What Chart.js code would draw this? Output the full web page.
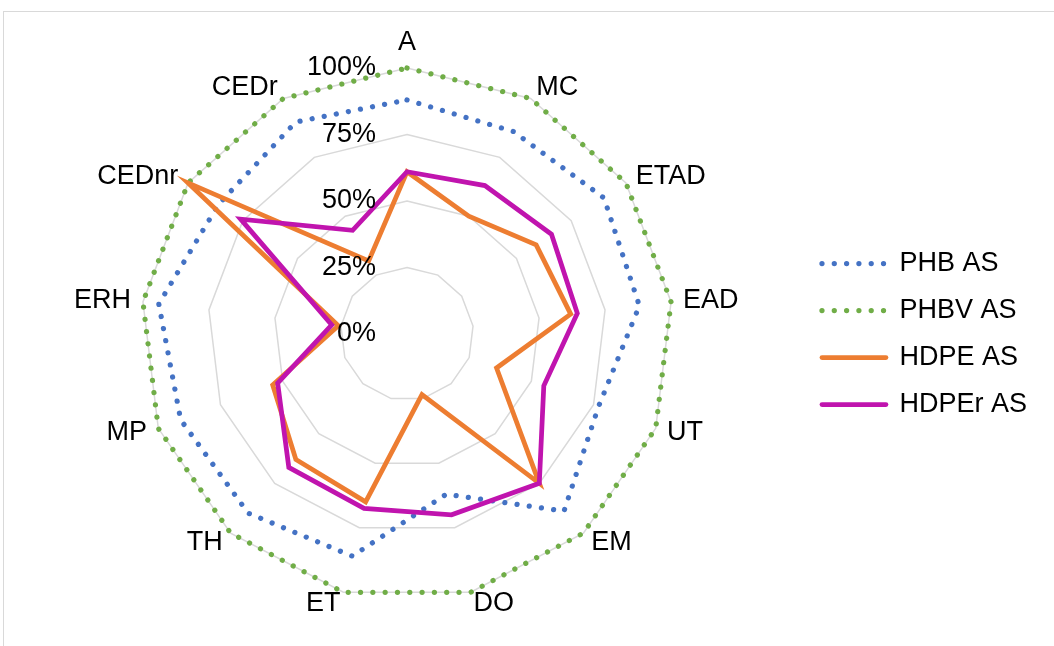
<!DOCTYPE html>
<html>
<head>
<meta charset="utf-8">
<script src="https://cdn.jsdelivr.net/npm/chart.js@4.4.1/dist/chart.umd.min.js"></script>
<style>
  html, body { margin: 0; padding: 0; background: #fff; overflow: hidden; width: 1054px; height: 646px; }
  #frame { position: absolute; left: 3px; top: 11px; width: 1200px; height: 800px; border: 1px solid #d9d9d9; box-sizing: border-box; }
  #chart { position: absolute; left: 0; top: 0; }
</style>
</head>
<body>
<div id="frame"></div>
<canvas id="chart" width="1054" height="646"></canvas>
<script>
// Indicator axes, clockwise from the top
const categories = ['A', 'MC', 'ETAD', 'EAD', 'UT', 'EM', 'DO', 'ET', 'TH', 'MP', 'ERH', 'CEDnr', 'CEDr'];

// Normalised scores per indicator (%)
const phbAS   = [88, 86, 90, 88, 77, 89, 62, 86, 90, 91, 94, 86, 90];
const phbvAS  = [100, 100, 100, 100, 100, 100, 100, 100, 100, 100, 100, 100, 100];
const hdpeAS  = [61, 50, 59, 62, 36, 75, 23.5, 65, 63, 54, 26, 100, 31];
const hdperAS = [61, 63, 66, 64.5, 55, 75, 70, 67.5, 67, 52, 28.5, 76, 44];

const seriesNames = ['PHB AS', 'PHBV AS', 'HDPE AS', 'HDPEr AS'];
const tickValues = [0, 25, 50, 75, 100];

const FONT = '"Liberation Sans", Arial, Helvetica, sans-serif';
Chart.defaults.font.family = FONT;
Chart.defaults.color = '#000';

const DOTS = [0.01, 12.3];

// Category names around the web and percentage labels beside the vertical axis
const axisText = {
  id: 'axisText',
  afterDatasetsDraw(chart) {
    const s = chart.scales.r;
    const ctx = chart.ctx;
    ctx.save();
    ctx.font = '27px ' + FONT;
    ctx.fillStyle = '#000';
    categories.forEach((name, i) => {
      const a = s.getIndexAngle(i);
      const sin = Math.sin(a);
      const p = s.getPointPosition(i, s.drawingArea + 12);
      if (Math.abs(sin) < 1e-6) {
        ctx.textAlign = 'center';
        ctx.textBaseline = Math.cos(a) > 0 ? 'bottom' : 'top';
      } else {
        ctx.textAlign = sin > 0 ? 'left' : 'right';
        ctx.textBaseline = 'middle';
      }
      ctx.fillText(name, p.x, p.y);
    });
    ctx.textAlign = 'right';
    ctx.textBaseline = 'middle';
    tickValues.forEach(v => {
      const d = s.getDistanceFromCenterForValue(v);
      ctx.fillText(v + '%', s.xCenter - 31, s.yCenter - d);
    });
    ctx.restore();
  }
};

// Legend entries show each series' own stroke (width, dots, cap)
function lineLegendItems(chart) {
  return chart.data.datasets.map((ds, i) => ({
    text: ds.label,
    datasetIndex: i,
    hidden: !chart.isDatasetVisible(i),
    fillStyle: ds.borderColor,
    strokeStyle: ds.borderColor,
    fontColor: '#000',
    lineWidth: ds.borderWidth,
    lineDash: ds.borderDash || [],
    lineDashOffset: 0,
    lineCap: 'round',
    lineJoin: 'round',
    pointStyle: 'line',
    rotation: 0
  }));
}

new Chart(document.getElementById('chart'), {
  type: 'radar',
  data: {
    labels: categories,
    datasets: [
      { label: seriesNames[0], data: phbAS, borderColor: '#4472C4', backgroundColor: '#4472C4', borderWidth: 5.25,
        borderDash: DOTS, borderCapStyle: 'round', borderJoinStyle: 'round', order: 4 },
      { label: seriesNames[1], data: phbvAS, borderColor: '#70AD47', backgroundColor: '#70AD47', borderWidth: 5.25,
        borderDash: DOTS, borderCapStyle: 'round', borderJoinStyle: 'round', order: 3 },
      { label: seriesNames[2], data: hdpeAS, borderColor: '#ED7D31', backgroundColor: '#ED7D31', borderWidth: 4.75,
        borderCapStyle: 'round', borderJoinStyle: 'miter', order: 2 },
      { label: seriesNames[3], data: hdperAS, borderColor: '#C014AE', backgroundColor: '#C014AE', borderWidth: 4.75,
        borderCapStyle: 'round', borderJoinStyle: 'miter', order: 1 }
    ]
  },
  options: {
    responsive: false,
    animation: false,
    devicePixelRatio: 1,
    layout: { padding: { left: 14, right: 17, top: 68, bottom: 46 } },
    elements: {
      line: { fill: false, tension: 0 },
      point: { radius: 0, hoverRadius: 0, hitRadius: 0 }
    },
    scales: {
      r: {
        min: 0,
        max: 100,
        ticks: { display: false, stepSize: 25 },
        pointLabels: { display: false },
        angleLines: { display: false },
        grid: { color: '#D9D9D9', lineWidth: 1.5 }
      }
    },
    plugins: {
      legend: {
        position: 'right',
        align: 'center',
        labels: {
          usePointStyle: true,
          pointStyle: 'line',
          pointStyleWidth: 64,
          padding: 20,
          color: '#000',
          font: { family: FONT, size: 27 },
          generateLabels: lineLegendItems
        }
      },
      tooltip: { enabled: false }
    }
  },
  plugins: [axisText]
});
</script>
</body>
</html>
